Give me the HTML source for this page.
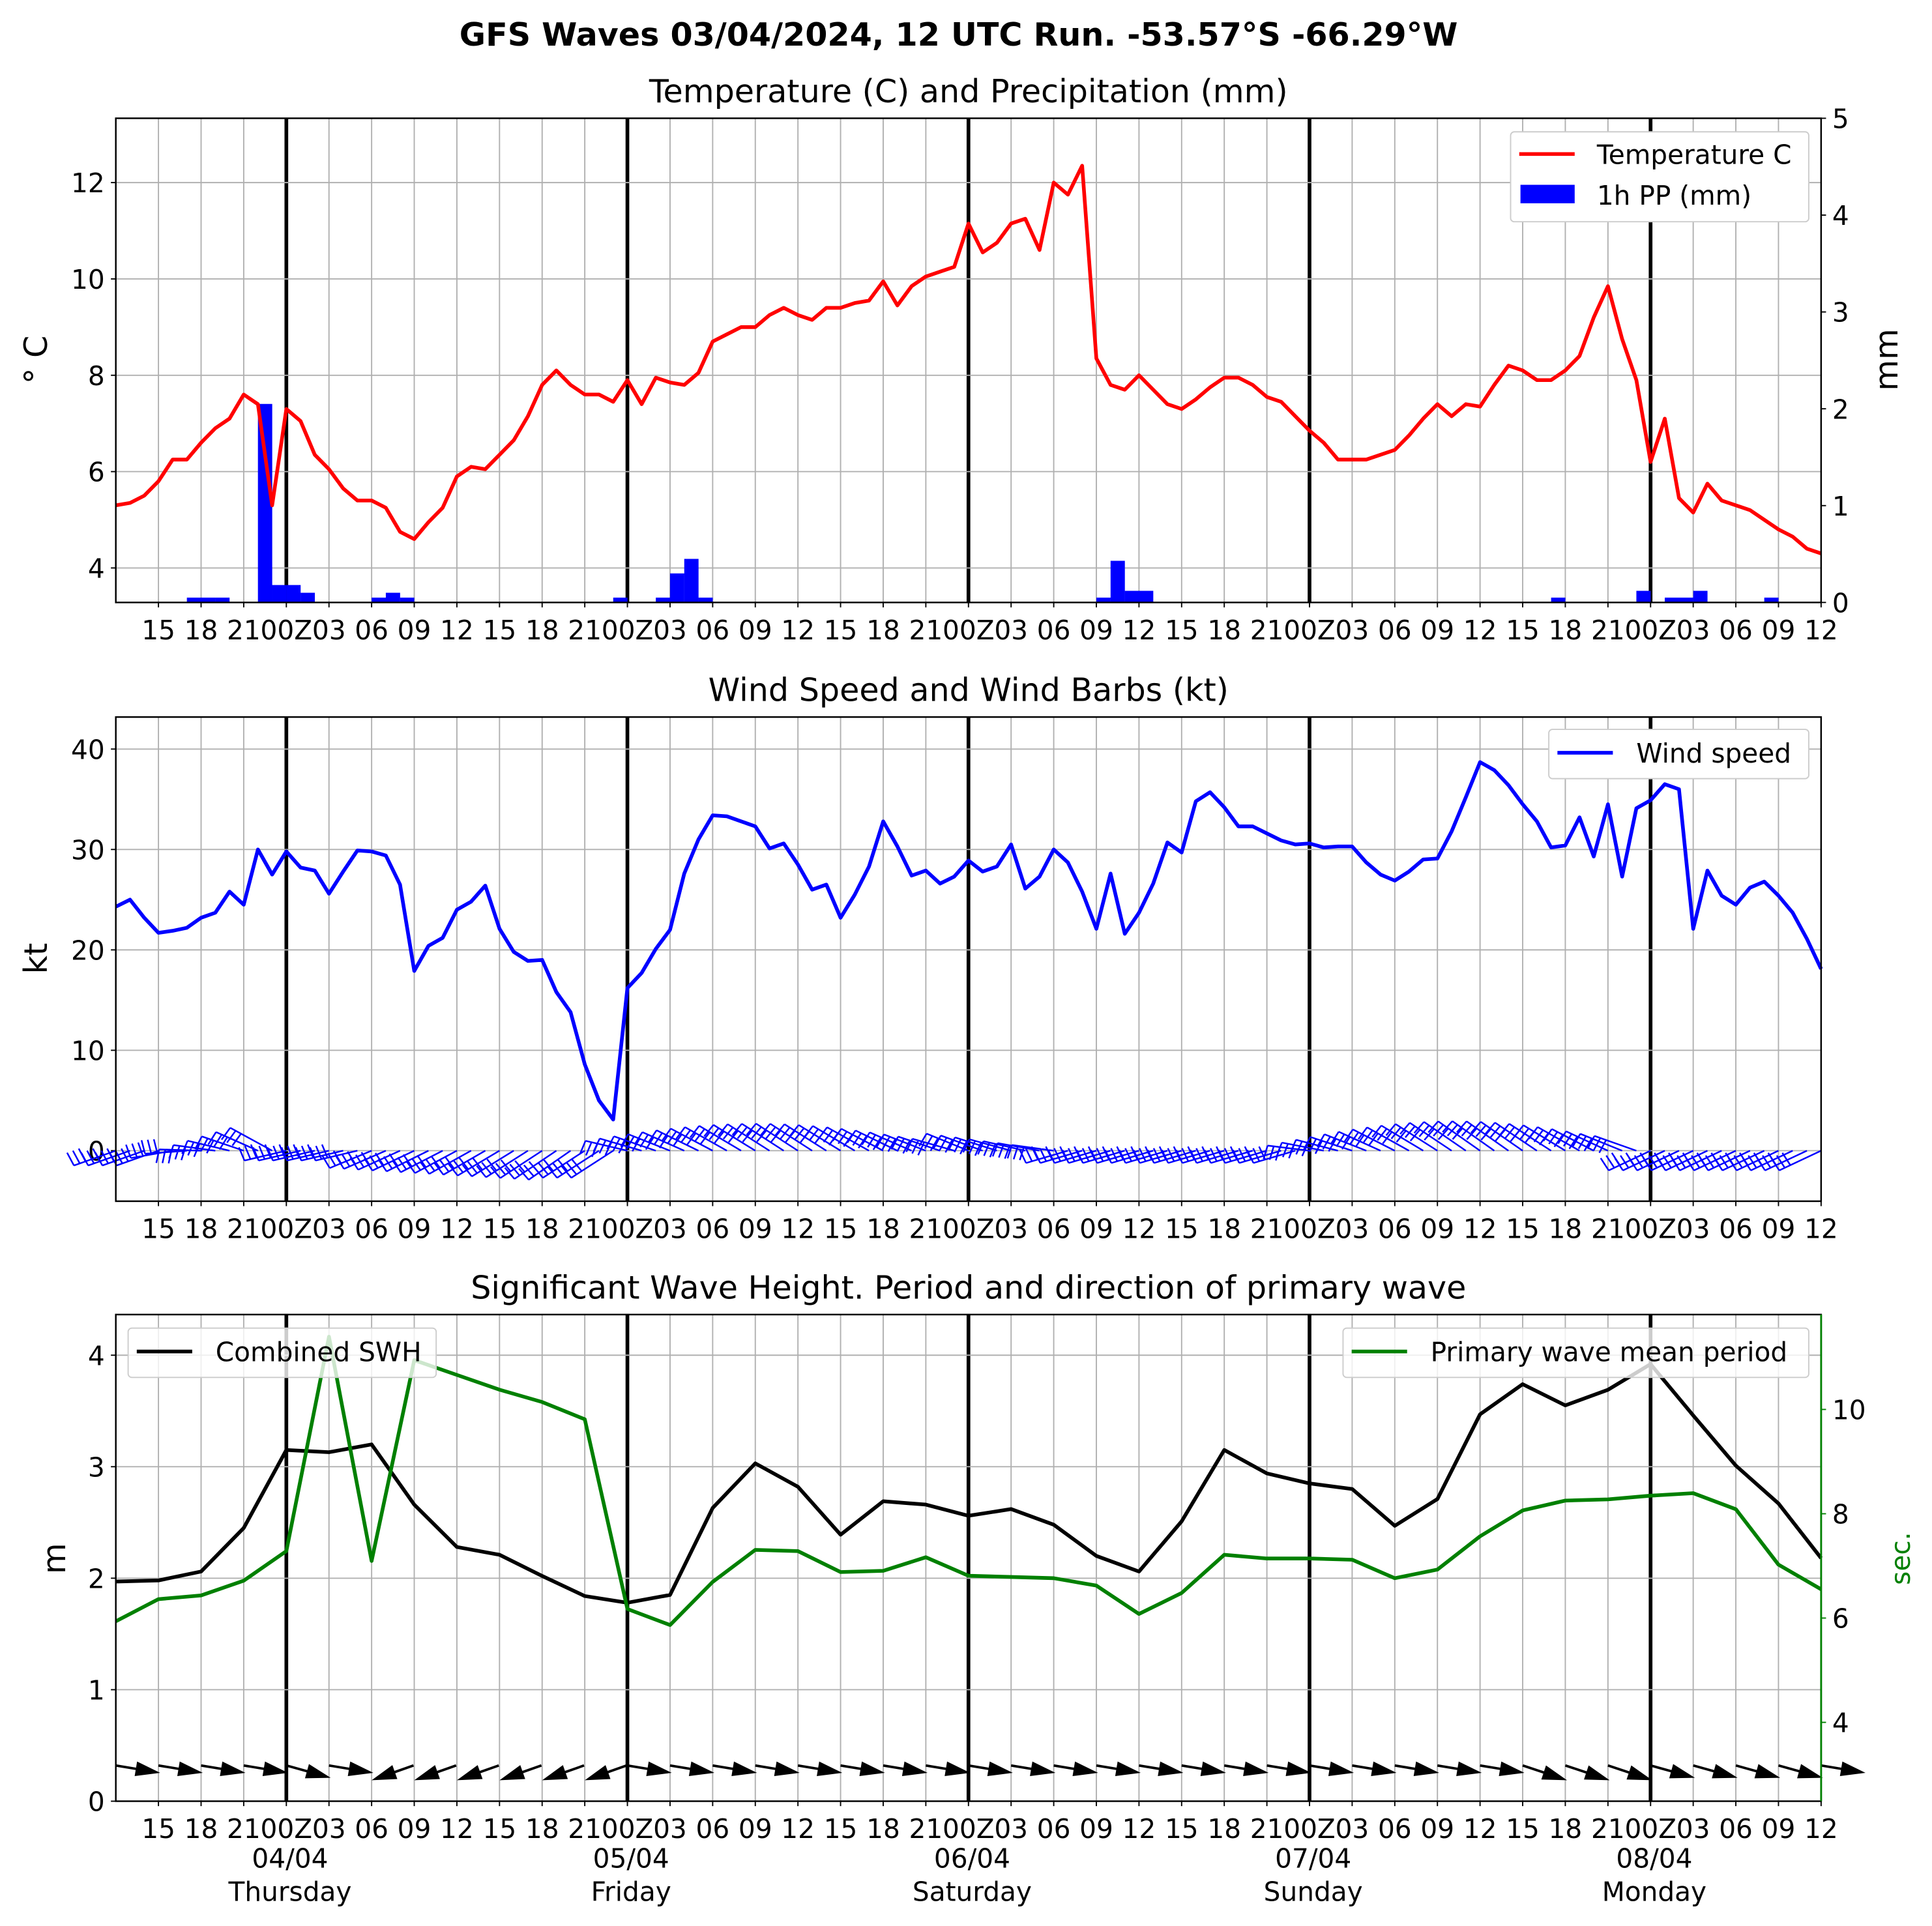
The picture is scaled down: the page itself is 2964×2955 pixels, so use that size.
<!DOCTYPE html>
<html><head><meta charset="utf-8"><style>
html,body{margin:0;padding:0;background:#fff}
svg{display:block}
text{font-family:"DejaVu Sans","Liberation Sans",sans-serif;fill:#000}
</style></head><body>
<svg id="s" width="2964" height="2955" viewBox="0 0 1568 1563.3" preserveAspectRatio="none" xmlns="http://www.w3.org/2000/svg"></svg>
<script>
const S=document.getElementById('s');let h='';
const L=94,R=1478,ph=1384/120;
const X=i=>L+i*ph;
const FT=21.5,FB=26,LW=3;
h+=`<rect width="1568" height="1564" fill="#fff"/>`;
h+=`<text x="778" y="37" font-size="${FB}" font-weight="bold" text-anchor="middle">GFS Waves 03/04/2024, 12 UTC Run. -53.57°S -66.29°W</text>`;
const panels=[[96,489],[582,975],[1067,1462]];
const titles=["Temperature (C) and Precipitation (mm)","Wind Speed and Wind Barbs (kt)","Significant Wave Height. Period and direction of primary wave"];
const lab=["15","18","21","00Z","03","06","09","12"];
panels.forEach(([t,b],p)=>{
 h+=`<text x="786" y="${t-13}" font-size="${FB}" text-anchor="middle">${titles[p]}</text>`;
 for(let i=3;i<120;i+=3){h+=`<line x1="${X(i)}" x2="${X(i)}" y1="${t}" y2="${b}" stroke="#b0b0b0" stroke-width="1"/>`;}
 for(let d=0;d<5;d++){const x=X(12+24*d);h+=`<line x1="${x}" x2="${x}" y1="${t}" y2="${b}" stroke="#000" stroke-width="3"/>`;}
 for(let i=3;i<=120;i+=3){const x=X(i);h+=`<line x1="${x}" x2="${x}" y1="${b}" y2="${b+4}" stroke="#000"/>`;
  h+=`<text x="${x}" y="${b+30}" font-size="${FT}" text-anchor="middle">${lab[(i/3-1)%8]}</text>`;}
});
function hgrid(t,b,vals,yf){vals.forEach(v=>{const y=yf(v);h+=`<line x1="${L}" x2="${R}" y1="${y}" y2="${y}" stroke="#b0b0b0"/><line x1="${L-4}" x2="${L}" y1="${y}" y2="${y}" stroke="#000"/><text x="${L-9}" y="${y+8}" font-size="${FT}" text-anchor="end">${v}</text>`;});}
function poly(pts,col,w){h+=`<polyline points="${pts.map(p=>p.join(',')).join(' ')}" fill="none" stroke="${col}" stroke-width="${w}" stroke-linejoin="round"/>`;}
// ---- Panel 1
const yT=v=>461-(v-4)*39.1, yP=v=>489-v*78.6;
hgrid(96,489,[4,6,8,10,12],yT);
[0,1,2,3,4,5].forEach(v=>{const y=yP(v);h+=`<line x1="${R}" x2="${R+4}" y1="${y}" y2="${y}" stroke="#000"/><text x="${R+9}" y="${y+8}" font-size="${FT}">${v}</text>`;});
const pp=[[5,0.05],[6,0.05],[7,0.05],[10,2.05],[11,0.18],[12,0.18],[13,0.1],[18,0.05],[19,0.1],[20,0.05],[35,0.05],[38,0.05],[39,0.3],[40,0.45],[41,0.05],[69,0.05],[70,0.43],[71,0.12],[72,0.12],[101,0.05],[107,0.12],[109,0.05],[110,0.05],[111,0.12],[116,0.05]];
pp.forEach(([i,v])=>{h+=`<rect x="${X(i)}" y="${yP(v)}" width="11.6" height="${489-yP(v)}" fill="#0000ff"/>`;});
const T=[5.3,5.35,5.5,5.8,6.25,6.25,6.6,6.9,7.1,7.6,7.4,5.3,7.3,7.05,6.35,6.05,5.65,5.4,5.4,5.25,4.75,4.6,4.95,5.25,5.9,6.1,6.05,6.35,6.65,7.15,7.8,8.1,7.8,7.6,7.6,7.45,7.9,7.4,7.95,7.85,7.8,8.05,8.7,8.85,9.0,9.0,9.25,9.4,9.25,9.15,9.4,9.4,9.5,9.55,9.95,9.45,9.85,10.05,10.15,10.25,11.15,10.55,10.75,11.15,11.25,10.6,12.0,11.75,12.35,8.35,7.8,7.7,8.0,7.7,7.4,7.3,7.5,7.75,7.95,7.95,7.8,7.55,7.45,7.15,6.85,6.6,6.25,6.25,6.25,6.35,6.45,6.75,7.1,7.4,7.15,7.4,7.35,7.8,8.2,8.1,7.9,7.9,8.1,8.4,9.2,9.85,8.75,7.9,6.2,7.1,5.45,5.15,5.75,5.4,5.3,5.2,5.0,4.8,4.65,4.4,4.3];
poly(T.map((v,i)=>[X(i),yT(v)]),'#ff0000',LW);
h+=`<text transform="translate(38,292) rotate(-90)" font-size="${FB}" text-anchor="middle">° C</text>`;
h+=`<text transform="translate(1540,292) rotate(-90)" font-size="${FB}" text-anchor="middle">mm</text>`;
h+=`<rect x="1226" y="107" width="242" height="73" fill="#fff" stroke="#ccc" rx="3"/>`;
h+=`<line x1="1233" x2="1278" y1="125" y2="125" stroke="#f00" stroke-width="${LW}"/><text x="1296" y="133" font-size="${FT}">Temperature C</text>`;
h+=`<rect x="1234" y="150" width="44" height="15" fill="#00f"/><text x="1296" y="166" font-size="${FT}">1h PP (mm)</text>`;
// ---- Panel 2
const yW=v=>934-v*8.15;
hgrid(582,975,[0,10,20,30,40],yW);
const W=[24.3,25,23.2,21.7,21.9,22.2,23.2,23.7,25.8,24.5,30,27.5,29.8,28.2,27.9,25.6,27.8,29.9,29.8,29.4,26.5,17.9,20.4,21.2,24,24.8,26.4,22.1,19.8,18.9,19,15.8,13.8,8.6,5,3.1,16.2,17.7,20.1,22,27.6,31,33.4,33.3,32.8,32.3,30.1,30.6,28.5,26,26.5,23.2,25.5,28.3,32.8,30.3,27.4,27.9,26.6,27.3,28.9,27.8,28.3,30.5,26.1,27.3,30,28.7,25.8,22.1,27.6,21.6,23.7,26.6,30.7,29.7,34.8,35.7,34.2,32.3,32.3,31.6,30.9,30.5,30.6,30.2,30.3,30.3,28.7,27.5,26.9,27.8,29,29.1,31.8,35.2,38.7,37.9,36.4,34.5,32.8,30.2,30.4,33.2,29.3,34.5,27.3,34.1,34.9,36.5,36,22.1,27.9,25.4,24.5,26.2,26.8,25.4,23.7,21.1,18.1];
function dyAt(i){const x=X(i);
 if(x<140)return 12; if(x<232)return 6-28*(x-140)/92; if(x<300)return 8;
 if(x<470)return 14+10*(x-300)/170; if(x<509)return 22;
 if(x<785){const f=(x-509)/276;return -8-14*Math.sin(f*Math.PI);} if(x<860)return -14+10*(x-785)/75;
 if(x<1062)return 10; if(x<1320){const f=(x-1062)/258;return -4-20*Math.sin(f*Math.PI*0.85);} if(x<1339)return -12; return 16;}
let bb='';
for(let i=0;i<=120;i++){const x=X(i),dy=dyAt(i);const dir=(dy<0)?-1:1;
 const ex=x-34,ey=934+dy;bb+=`M${x},934L${ex},${ey}`;
 const len=Math.hypot(34,dy),ux=-34/len,uy=dy/len;
 for(let k=0;k<3;k++){const px=ex-ux*k*5,py=ey-uy*k*5;bb+=`M${px},${py}l${-uy*11*dir+ux*2},${ux*11*dir}`;}
}
h+=`<path d="${bb}" stroke="#0000ff" stroke-width="1.3" fill="none"/>`;
poly(W.map((v,i)=>[X(i),yW(v)]),'#0000ff',LW);
h+=`<text transform="translate(38,778) rotate(-90)" font-size="${FB}" text-anchor="middle">kt</text>`;
h+=`<rect x="1257" y="592" width="211" height="40" fill="#fff" stroke="#ccc" rx="3"/>`;
h+=`<line x1="1264" x2="1309" y1="611" y2="611" stroke="#00f" stroke-width="${LW}"/><text x="1328" y="619" font-size="${FT}">Wind speed</text>`;
// ---- Panel 3
const yH=v=>1462-v*90.5, yS=v=>1398-(v-4)*42.33;
hgrid(1067,1462,[0,1,2,3,4],yH);
[4,6,8,10].forEach(v=>{const y=yS(v);h+=`<line x1="${R}" x2="${R+4}" y1="${y}" y2="${y}" stroke="#008000"/><text x="${R+9}" y="${y+8}" font-size="${FT}">${v}</text>`;});
let wa='';
for(let i=0;i<=120;i+=3){const x=X(i);
 let x1,y1,x2,y2;
 if(x>290&&x<480){x1=x+34;y1=1433;x2=x;y2=1445;}
 else{let dy=6;if(x>200&&x<250)dy=10;if(x>1230&&x<1320)dy=12;if(x>1330&&x<1450)dy=10;
  x1=x;y1=1433;x2=x+36;y2=1433+dy;}
 const dx=x2-x1,dy=y2-y1,l=Math.hypot(dx,dy),ux=dx/l,uy=dy/l;
 wa+=`<line x1="${x1}" y1="${y1}" x2="${x2-ux*12}" y2="${y2-uy*12}" stroke="#000" stroke-width="2"/>`;
 wa+=`<polygon points="${x2},${y2} ${x2-ux*20-uy*6},${y2-uy*20+ux*6} ${x2-ux*20+uy*6},${y2-uy*20-ux*6}" fill="#000"/>`;}
h+=wa;
const H=[1.97,1.98,2.06,2.45,3.15,3.13,3.2,2.66,2.28,2.21,2.02,1.84,1.78,1.85,2.63,3.03,2.82,2.39,2.69,2.66,2.56,2.62,2.48,2.2,2.06,2.51,3.15,2.94,2.85,2.8,2.47,2.71,3.47,3.74,3.55,3.69,3.92,3.46,3.01,2.67,2.18];
const P=[1316,1298,1295,1283,1259,1085,1267,1104,1116,1128,1138,1152,1306,1319,1284,1258,1259,1276,1275,1264,1279,1280,1281,1287,1310,1293,1262,1265,1265,1266,1281,1274,1247,1226,1218,1217,1214,1212,1225,1270,1290];
poly(H.map((v,i)=>[X(i*3),yH(v)]),'#000',LW);
poly(P.map((v,i)=>[X(i*3),v]),'#008000',LW);
h+=`<text transform="translate(53,1265) rotate(-90)" font-size="${FB}" text-anchor="middle">m</text>`;
h+=`<text transform="translate(1550,1265) rotate(-90)" font-size="${FT}" text-anchor="middle" style="fill:#008000">sec.</text>`;
h+=`<rect x="104" y="1078" width="250" height="40" fill="#fff" fill-opacity="0.8" stroke="#ccc" rx="3"/>`;
h+=`<line x1="111" x2="156" y1="1097" y2="1097" stroke="#000" stroke-width="${LW}"/><text x="175" y="1105" font-size="${FT}">Combined SWH</text>`;
h+=`<rect x="1090" y="1078" width="378" height="40" fill="#fff" fill-opacity="0.8" stroke="#ccc" rx="3"/>`;
h+=`<line x1="1097" x2="1142" y1="1097" y2="1097" stroke="#008000" stroke-width="${LW}"/><text x="1161" y="1105" font-size="${FT}">Primary wave mean period</text>`;
const dates=[["04/04","Thursday"],["05/04","Friday"],["06/04","Saturday"],["07/04","Sunday"],["08/04","Monday"]];
dates.forEach((d,k)=>{const x=X(12+24*k)+3;h+=`<text x="${x}" y="1516" font-size="${FT}" text-anchor="middle">${d[0]}</text><text x="${x}" y="1543" font-size="${FT}" text-anchor="middle">${d[1]}</text>`;});
panels.forEach(([t,b],p)=>{h+=`<rect x="${L}" y="${t}" width="${R-L}" height="${b-t}" fill="none" stroke="#000" stroke-width="1.3"/>`;});
h+=`<line x1="${R}" x2="${R}" y1="1067" y2="1462" stroke="#008000" stroke-width="1.5"/>`;
S.innerHTML=h;
</script>
</body></html>
